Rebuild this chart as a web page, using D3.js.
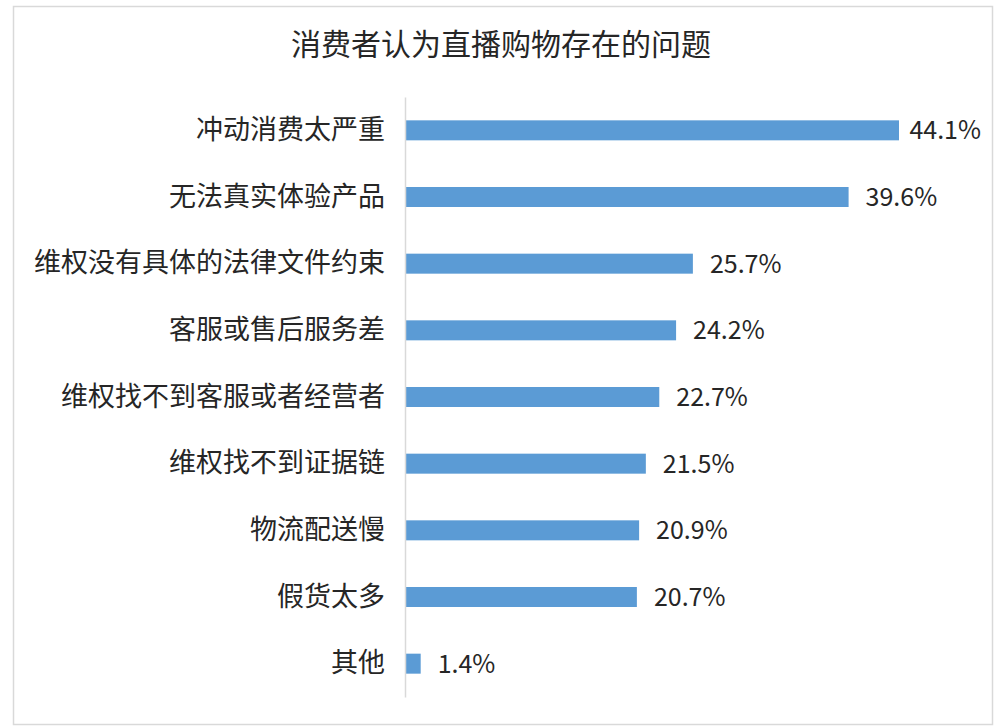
<!DOCTYPE html>
<html>
<head>
<meta charset="utf-8">
<script src="https://cdn.jsdelivr.net/npm/d3@7"></script>
<style>
  body { margin: 0; background: #fff; }
  svg text { font-family: "Noto Sans CJK SC", "Noto Sans", sans-serif; }
</style>
</head>
<body>
<div id="chart"></div>
<script>
const title = "消费者认为直播购物存在的问题";
const categories = ["冲动消费太严重", "无法真实体验产品", "维权没有具体的法律文件约束", "客服或售后服务差",
    "维权找不到客服或者经营者", "维权找不到证据链", "物流配送慢", "假货太多", "其他"];
const values = [44.1, 39.6, 25.7, 24.2, 22.7, 21.5, 20.9, 20.7, 1.4];

const width = 1000, height = 728;
const svg = d3.select("#chart").append("svg")
    .attr("width", width).attr("height", height);

// outer frame
svg.append("rect")
    .attr("x", 13.5).attr("y", 6.5)
    .attr("width", 979).attr("height", 718)
    .attr("fill", "#fff").attr("stroke", "#d9d9d9").attr("stroke-width", 1.5);

svg.append("text")
    .attr("x", 501).attr("y", 55)
    .attr("text-anchor", "middle")
    .attr("font-size", 30)
    .attr("fill", "#262626")
    .text(title);

const x = d3.scaleLinear().domain([0, 44.1]).range([405, 899]);
const y = d3.scaleBand().domain(categories).range([97, 697]).paddingInner(0.7).paddingOuter(0.35);

// bars
svg.selectAll(".bar").data(categories)
    .enter().append("rect")
    .attr("class", "bar")
    .attr("x", x(0))
    .attr("y", d => y(d))
    .attr("width", (d, i) => x(values[i]) - x(0))
    .attr("height", y.bandwidth())
    .attr("fill", "#5b9bd5");

// axis line
const yAxis = svg.append("g")
    .attr("transform", `translate(${x(0)},0)`)
    .call(d3.axisLeft(y).tickSize(0).tickPadding(20));
yAxis.select(".domain").attr("stroke", "#d9d9d9").attr("stroke-width", 1.5);
yAxis.selectAll("text")
    .attr("font-size", 27)
    .attr("fill", "#262626")
    .attr("font-family", "Noto Sans CJK SC");

// value labels, pushed back inside the plot edge if they would overflow
const plotRight = 981;
svg.selectAll(".val").data(categories)
    .enter().append("text")
    .attr("class", "val")
    .attr("y", d => y(d) + y.bandwidth() / 2)
    .attr("dy", "0.36em")
    .attr("font-size", 25)
    .attr("fill", "#262626")
    .text((d, i) => values[i].toFixed(1) + "%")
    .attr("x", function(d, i) {
        const len = this.getComputedTextLength();
        return Math.min(x(values[i]) + 17, plotRight - len);
    });
</script>
</body>
</html>
